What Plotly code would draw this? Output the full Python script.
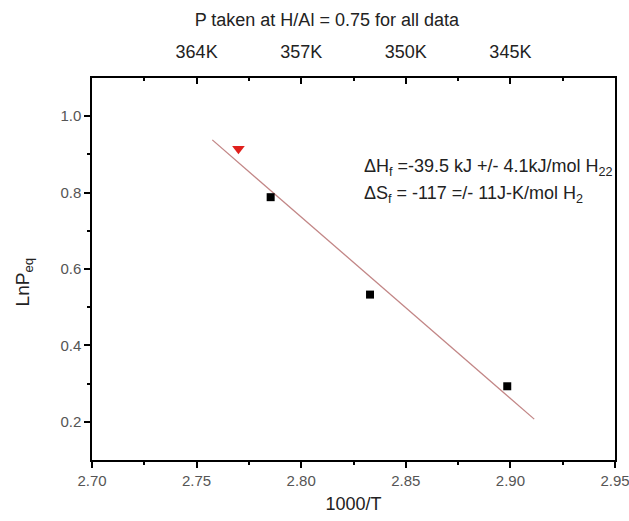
import plotly.graph_objects as go

# Data
inv_T = [2.7854, 2.8329, 2.8985]
ln_p = [0.788, 0.533, 0.293]
red_x = [2.770]
red_y = [0.915]
fit_x = [2.7575, 2.9114]
fit_y = [0.938, 0.207]

bottom_ticks = [2.70, 2.75, 2.80, 2.85, 2.90, 2.95]
bottom_ticktext = ["2.70", "2.75", "2.80", "2.85", "2.90", "2.95"]
top_tickvals = [2.75, 2.80, 2.85, 2.90]
top_ticktext = ["364K", "357K", "350K", "345K"]
y_ticks = [0.2, 0.4, 0.6, 0.8, 1.0]
y_ticktext = ["0.2", "0.4", "0.6", "0.8", "1.0"]

FONT = "Liberation Sans, Arial, sans-serif"
XR = [2.69999, 2.95001]

fig = go.Figure()
fig.add_trace(go.Scatter(x=fit_x, y=fit_y, mode="lines",
                         line=dict(color="#c28686", width=1.3), showlegend=False))
fig.add_trace(go.Scatter(x=inv_T, y=ln_p, mode="markers",
                         marker=dict(symbol="square", size=8, color="black"), showlegend=False))
fig.add_trace(go.Scatter(x=red_x, y=red_y, mode="markers",
                         marker=dict(symbol="triangle-down", size=11, color="#e0201c"), showlegend=False))
# invisible trace to activate the top axis
fig.add_trace(go.Scatter(x=fit_x, y=fit_y, xaxis="x2", mode="lines",
                         line=dict(width=0), opacity=0, showlegend=False, hoverinfo="skip"))

fig.update_layout(
    width=629, height=521,
    margin=dict(l=92, r=14, t=78, b=61, autoexpand=False),
    paper_bgcolor="white", plot_bgcolor="white",
    font=dict(family=FONT, color="#222"),
    title=dict(text="P taken at H/Al = 0.75 for all data", x=0.449, xref="paper",
               xanchor="center", y=0.962, yref="container", yanchor="middle",
               font=dict(size=18, color="#222", family=FONT)),
    xaxis=dict(range=XR, tickvals=bottom_ticks, ticktext=bottom_ticktext, automargin=False,
               ticklabeloverflow="allow",
               ticks="outside", ticklen=6, tickwidth=1.5, tickcolor="black",
               showline=True, linecolor="black", linewidth=1.5, mirror=False,
               showgrid=False, zeroline=False,
               tickfont=dict(size=15, color="#555"),
               minor=dict(tickvals=[2.725, 2.775, 2.825, 2.875, 2.925], ticks="outside",
                          ticklen=3, tickwidth=1.5, tickcolor="black"),
               title=dict(text="1000/T", font=dict(size=18, color="#222"), standoff=10)),
    xaxis2=dict(overlaying="x", side="top", range=XR, automargin=False,
                tickvals=top_tickvals, ticktext=top_ticktext,
                ticks="inside", ticklen=6, tickwidth=1.5, tickcolor="black",
                showline=True, linecolor="black", linewidth=1.5,
                showgrid=False, zeroline=False, ticklabelstandoff=11,
                tickfont=dict(size=18, color="#222"),
                minor=dict(tickvals=[2.725, 2.775, 2.825, 2.875, 2.925], ticks="inside",
                           ticklen=3, tickwidth=1.5, tickcolor="black")),
    yaxis=dict(range=[0.1, 1.1], tickvals=y_ticks, ticktext=y_ticktext, automargin=False,
               ticks="outside", ticklen=6, tickwidth=1.5, tickcolor="black",
               showline=True, linecolor="black", linewidth=1.5, mirror=True,
               showgrid=False, zeroline=False,
               tickfont=dict(size=15, color="#555"),
               minor=dict(tickvals=[0.3, 0.5, 0.7, 0.9], ticks="outside",
                          ticklen=3, tickwidth=1.5, tickcolor="black")),
    annotations=[
        dict(text="LnP<sub>eq</sub>", textangle=-90, x=-0.13, xref="paper", xanchor="center",
             y=0.465, yref="paper", yanchor="middle", showarrow=False,
             font=dict(size=19, color="#222")),
        dict(text="ΔH<sub>f</sub> =-39.5 kJ +/- 4.1kJ/mol H<sub>22</sub>", x=0.516, xref="paper",
             xanchor="left", y=0.767, yref="paper", yanchor="middle", showarrow=False,
             font=dict(size=18, color="#222")),
        dict(text="ΔS<sub>f</sub> = -117 =/- 11J-K/mol H<sub>2</sub>", x=0.516, xref="paper",
             xanchor="left", y=0.694, yref="paper", yanchor="middle", showarrow=False,
             font=dict(size=18, color="#222")),
    ],
)

fig.write_html("out.html", config={"displayModeBar": False},
               post_script="document.body.style.margin='0';document.body.style.overflow='hidden';")
